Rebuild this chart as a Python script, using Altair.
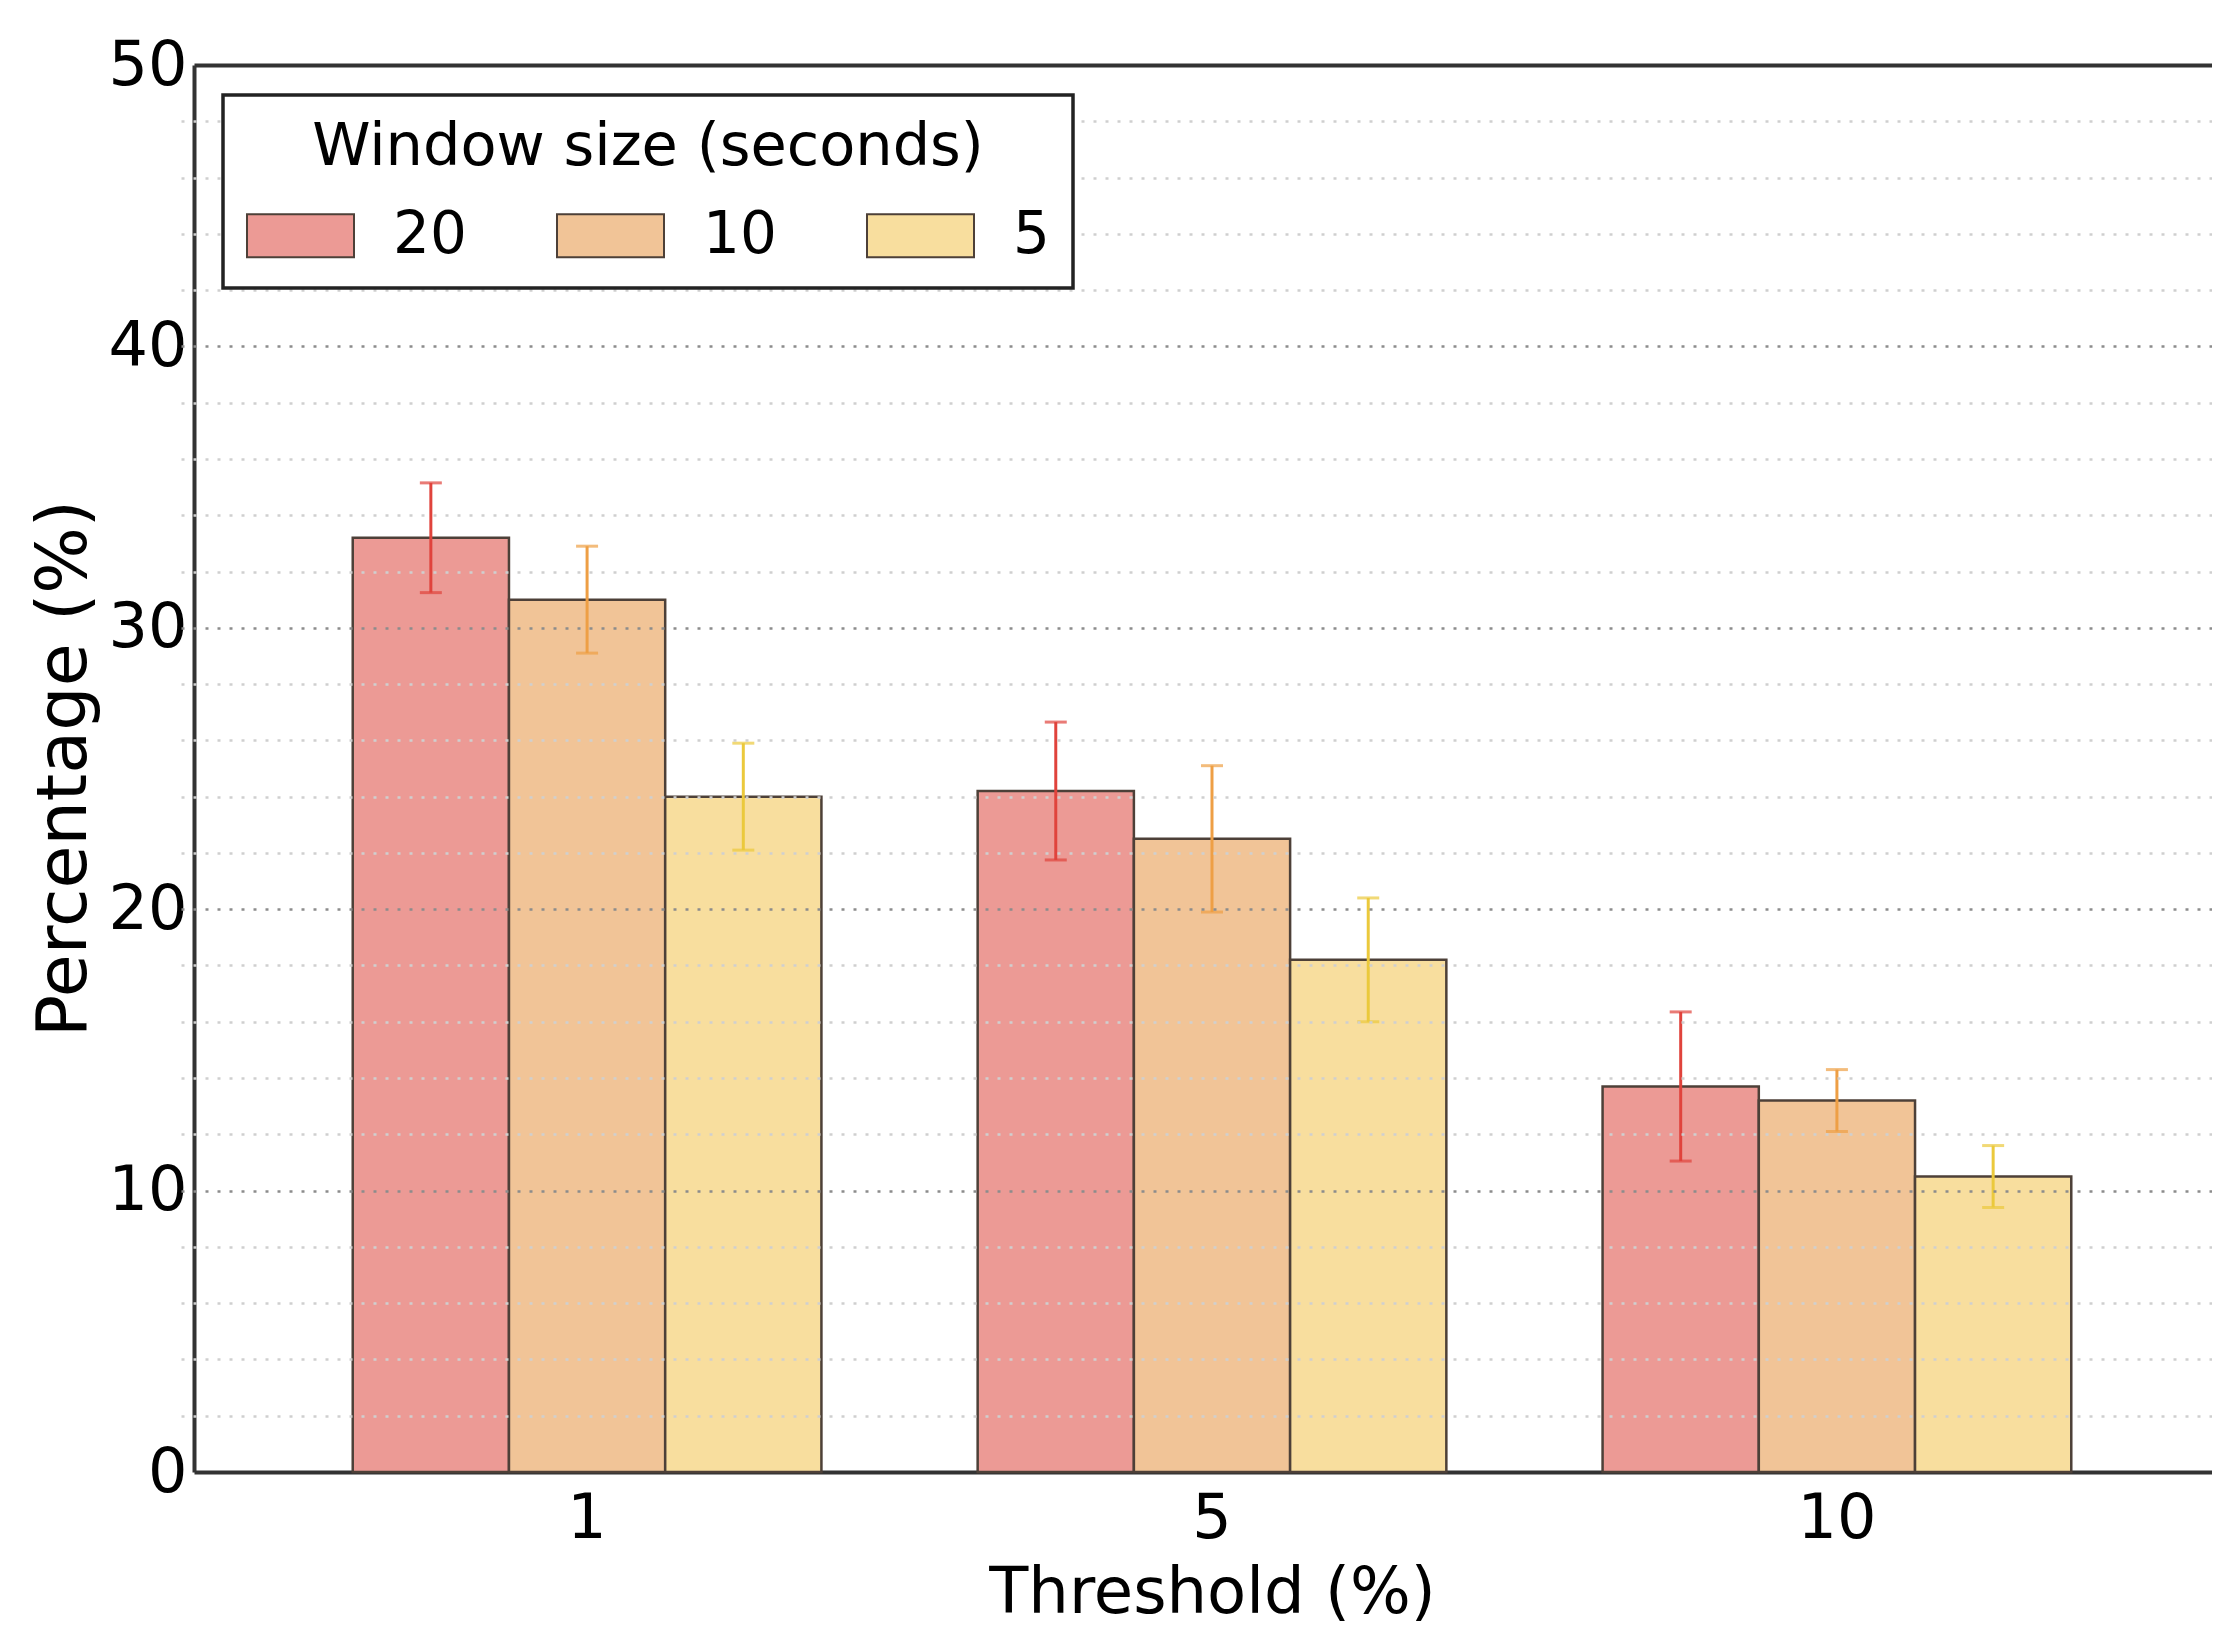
import altair as alt
import pandas as pd

# ---- data ----
thresholds = ["1", "5", "10"]
windows = ["20", "10", "5"]
mean_20 = [33.2, 24.2, 13.7]
mean_10 = [31.0, 22.5, 13.2]
mean_5 = [24.0, 18.2, 10.5]
err_20 = [1.95, 2.45, 2.65]
err_10 = [1.9, 2.6, 1.1]
err_5 = [1.9, 2.2, 1.1]

bar_colors = ["#EC9A95", "#F1C497", "#F8DE9E"]
err_colors = ["#E0433C", "#EE9F45", "#EBC93C"]
y_label_values = [0, 10, 20, 30, 40, 50]
grid_values = [2, 4, 6, 8, 10, 12, 14, 16, 18, 20, 22, 24, 26, 28, 30,
               32, 34, 36, 38, 40, 42, 44, 46, 48]

means = {"20": mean_20, "10": mean_10, "5": mean_5}
errs = {"20": err_20, "10": err_10, "5": err_5}

rows = []
caps = []
for w in windows:
    for i, t in enumerate(thresholds):
        m = means[w][i]
        e = errs[w][i]
        rows.append({"threshold": t, "window": w, "mean": m, "lo": m - e, "hi": m + e})
        caps.append({"threshold": t, "window": w, "v": m - e})
        caps.append({"threshold": t, "window": w, "v": m + e})
df = pd.DataFrame(rows)
cap_df = pd.DataFrame(caps)

FONT = "DejaVu Sans"
W = 2018
H = 1407

x_scale = alt.Scale(domain=thresholds, range=[0, 2036], paddingInner=0.25, paddingOuter=0.254)
xo_scale = alt.Scale(domain=windows, paddingInner=0, paddingOuter=0)
y_scale = alt.Scale(domain=[0, 50], nice=False)

rect_path = "M-1,-0.4L1,-0.4L1,0.4L-1,0.4Z"

bars = alt.Chart(df).mark_bar(stroke="#4d4038", strokeWidth=2.5).encode(
    x=alt.X("threshold:N", scale=x_scale, sort=thresholds,
            axis=alt.Axis(orient="bottom", title="Threshold (%)", labelFontSize=62,
                          labelAngle=0, labelPadding=16, ticks=False, tickSize=0,
                          domain=True, domainColor="#333333", domainWidth=4, grid=False,
                          labelColor="black", titleColor="black", titleFontSize=64,
                          titleFontWeight="normal", titleX=1018, titleY=140,
                          titleBaseline="alphabetic", titleAlign="center")),
    xOffset=alt.XOffset("window:N", scale=xo_scale, sort=windows),
    y=alt.Y("mean:Q", scale=y_scale,
            axis=alt.Axis(orient="left", values=y_label_values, title="Percentage (%)",
                          labelFontSize=62, labelPadding=7, ticks=False, tickSize=0,
                          domain=True, domainColor="#333333", domainWidth=4, grid=False,
                          labelColor="black", titleColor="black", titleFontSize=70,
                          titleFontWeight="normal", titleAngle=270, titleX=-130, titleY=703,
                          titleBaseline="middle", titleAlign="center")),
    color=alt.Color("window:N", scale=alt.Scale(domain=windows, range=bar_colors),
                    legend=alt.Legend(title="Window size (seconds)", orient="none",
                                      legendX=29, legendY=30, direction="horizontal",
                                      columns=3, symbolType=rect_path, symbolSize=11449,
                                      symbolStrokeColor="#4d4038", symbolStrokeWidth=2,
                                      symbolOpacity=1, labelFontSize=58, titleFontSize=59,
                                      labelOffset=38, columnPadding=86, padding=23,
                                      titlePadding=4, titleAnchor="middle",
                                      titleAlign="center", titleLimit=2000, labelLimit=500,
                                      strokeColor="#222222",
                                      fillColor="white", titleFontWeight="normal",
                                      labelColor="black", titleColor="black",
                                      labelFont=FONT, titleFont=FONT, zindex=2)),
)

rules = alt.Chart(df).mark_rule(strokeWidth=3).encode(
    x=alt.X("threshold:N", scale=x_scale, sort=thresholds,
            axis=alt.Axis(orient="top", labels=False, ticks=False, title=None,
                          domain=True, domainColor="#333333", domainWidth=4, grid=False)),
    xOffset=alt.XOffset("window:N", scale=xo_scale, sort=windows),
    y=alt.Y("lo:Q", scale=y_scale,
            axis=alt.Axis(orient="right", values=grid_values, labels=False, ticks=False,
                          domain=False, title=None, grid=True,
                          gridColor={"condition": {"test": "datum.value % 10 === 0",
                                                   "value": "#8c8c8c"},
                                     "value": "#cfcfcf"},
                          gridDash=[3, 9], gridWidth=2.5, zindex=1)),
    y2="hi:Q",
    color=alt.Color("window:N", scale=alt.Scale(domain=windows, range=err_colors), legend=None),
)

cap_marks = alt.Chart(cap_df).mark_tick(orient="horizontal", size=22, thickness=3).encode(
    x=alt.X("threshold:N", scale=x_scale, sort=thresholds, axis=None),
    xOffset=alt.XOffset("window:N", scale=xo_scale, sort=windows),
    y=alt.Y("v:Q", scale=y_scale, axis=None),
    color=alt.Color("window:N", scale=alt.Scale(domain=windows, range=err_colors), legend=None),
)

chart = alt.layer(bars, rules, cap_marks).resolve_scale(
    color="independent"
).resolve_axis(
    x="independent", y="independent"
).properties(
    width=W, height=H,
    padding={"left": 186, "top": 57, "right": 0, "bottom": 156},
    autosize=alt.AutoSizeParams(type="none"),
).configure(font=FONT).configure_view(stroke=None).configure_legend(strokeWidth=3.5)

chart.save("out.html", embed_options={"renderer": "svg", "actions": False})
